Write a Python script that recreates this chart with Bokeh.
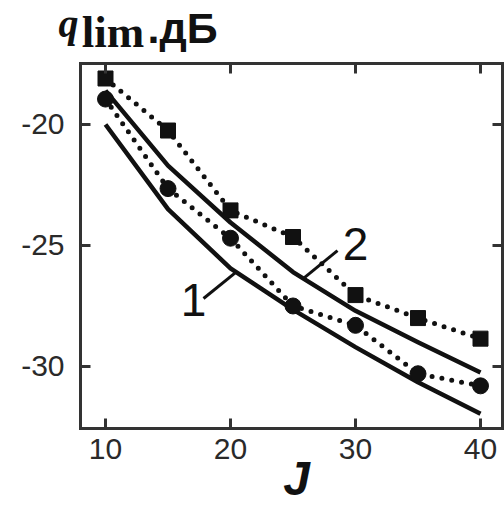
from bokeh.plotting import figure
from bokeh.models import Range1d, LinearAxis, FixedTicker, Label
from bokeh.embed import file_html
from bokeh.resources import INLINE

# ---- data ----
J = [10, 15, 20, 25, 30, 35, 40]
sq_vals = [-18.1, -20.25, -23.55, -24.65, -27.05, -28.0, -28.85]
circ_vals = [-18.95, -22.65, -24.7, -27.5, -28.3, -30.3, -30.8]
curve1 = [-20.0, -23.5, -25.95, -27.65, -29.2, -30.65, -31.95]
curve2 = [-18.6, -21.7, -24.05, -26.1, -27.7, -29.0, -30.25]
x_ticks = [10, 20, 30, 40]
y_ticks = [-30, -25, -20]
y_tick_labels = {-30: "-30", -25: "-25", -20: "-20"}

# plot box limits (data units)
X0, X1 = 8.0, 41.76
Y0, Y1 = -32.56, -17.48

INK = "#111111"
TXT = "#2a2a2a"
BOX = "#333333"

# frame covers the whole canvas; the box is drawn by four axes at fixed locations
p = figure(width=504, height=506, output_backend="svg", toolbar_location=None,
           x_range=Range1d(1.6, 41.92), y_range=Range1d(-35.786, -14.877),
           min_border=0, x_axis_location=None, y_axis_location=None)
p.grid.visible = False
p.outline_line_color = None
p.background_fill_color = "white"
p.border_fill_color = "white"


def make_axis(ticks, loc, bounds, labels=True, standoff=0, overrides=None):
    ax = LinearAxis(fixed_location=loc, bounds=bounds)
    ax.ticker = FixedTicker(ticks=ticks)
    ax.axis_line_color = BOX
    ax.axis_line_width = 3
    ax.axis_line_cap = "square"
    ax.major_tick_in = 10
    ax.major_tick_out = 0
    ax.major_tick_line_width = 3
    ax.major_tick_line_color = BOX
    ax.minor_tick_line_color = None
    ax.major_label_standoff = standoff
    if labels:
        ax.major_label_text_font = "Liberation Sans"
        ax.major_label_text_font_size = "30px"
        ax.major_label_text_color = TXT
        if overrides:
            ax.major_label_overrides = overrides
    else:
        ax.major_label_text_font_size = "0px"
        ax.major_label_text_alpha = 0
    return ax


p.add_layout(make_axis(x_ticks, Y0, (X0, X1), True, 11), "below")
p.add_layout(make_axis(y_ticks, X0, (Y0, Y1), True, 16, y_tick_labels), "left")
p.add_layout(make_axis(x_ticks, Y1, (X0, X1), False), "above")
p.add_layout(make_axis(y_ticks, X1, (Y0, Y1), False), "right")

# solid curves
p.line(J, curve1, line_color=INK, line_width=4.5, line_join="round")
p.line(J, curve2, line_color=INK, line_width=4.5, line_join="round")
# dotted series
p.line(J, sq_vals, line_color=INK, line_width=5, line_dash="0 10", line_cap="round")
p.line(J, circ_vals, line_color=INK, line_width=5, line_dash="0 10", line_cap="round")
p.scatter(J, sq_vals, marker="square", size=15, fill_color=INK, line_color=INK)
p.scatter(J, circ_vals, marker="circle", size=16, fill_color=INK, line_color=INK)

# curve labels with leader lines
p.segment(x0=[17.84, 25.84], y0=[-27.19, -26.36], x1=[20.4, 28.56], y1=[-26.12, -25.21],
          line_color=INK, line_width=3)
for t, x, y in [("1", 17.04, -27.27), ("2", 30.0, -24.92)]:
    p.add_layout(Label(x=x, y=y, text=t, text_font="Liberation Sans",
                       text_font_size="46px", text_color=INK,
                       text_align="center", text_baseline="middle"))

# axis titles (positioned by text centre)
p.add_layout(Label(x=6.24, y=-15.81, text="q", text_font="Liberation Serif",
                   text_font_style="bold italic", text_font_size="40px",
                   text_color=INK, text_align="left", text_baseline="middle"))
p.add_layout(Label(x=8.1, y=-16.19, text="lim", text_font="Liberation Serif",
                   text_font_style="bold", text_font_size="45px",
                   text_color=INK, text_align="left", text_baseline="middle"))
p.add_layout(Label(x=13.36, y=-16.03, text=".дБ", text_font="Liberation Sans",
                   text_font_style="bold", text_font_size="43px",
                   text_color=INK, text_align="left", text_baseline="middle"))
p.add_layout(Label(x=25.28, y=-34.645, text="J", text_font="Liberation Sans",
                   text_font_style="bold italic", text_font_size="48px",
                   text_color=INK, text_align="center", text_baseline="middle"))

open("out.html", "w").write(file_html(p, INLINE))
